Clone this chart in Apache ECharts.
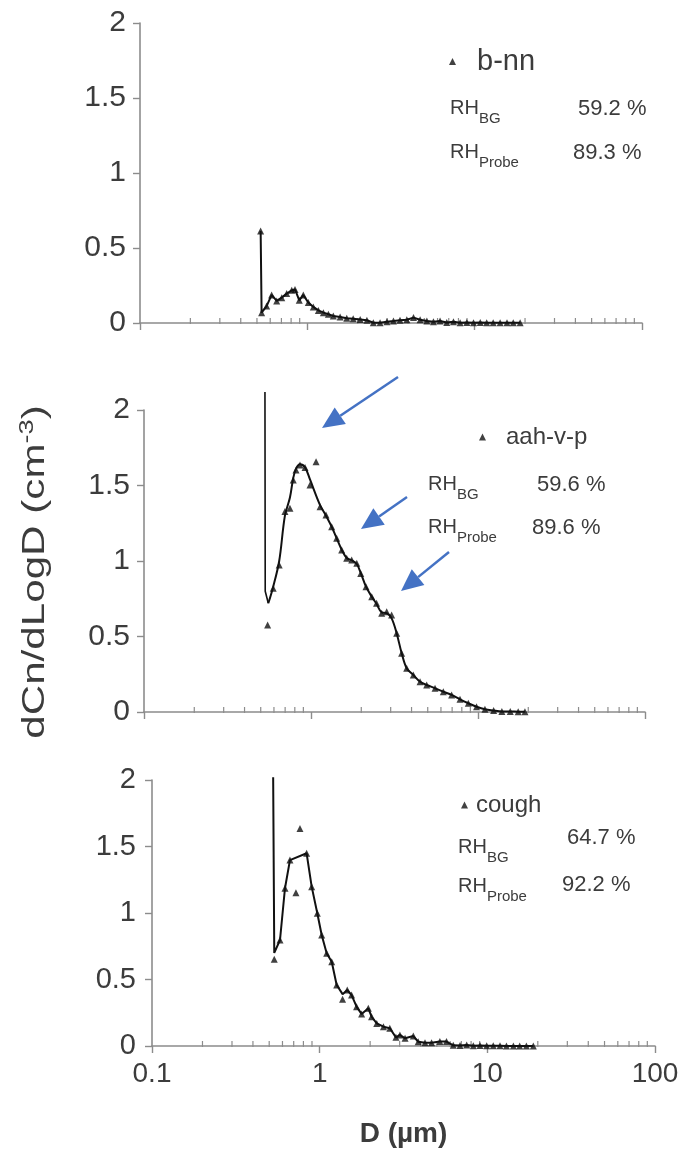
<!DOCTYPE html>
<html><head><meta charset="utf-8">
<script src="https://cdn.jsdelivr.net/npm/echarts@6/dist/echarts.min.js"></script>
<style>html,body{margin:0;padding:0;background:#fff}#c{width:684px;height:1149px}</style>
</head><body><div id="c"></div>
<script>
// ---------- data ----------
const xTickLabels = ['0.1', '1', '10', '100'];
const yTickLabels = ['0', '0.5', '1', '1.5', '2'];
const minorTicks = [0.2,0.3,0.4,0.5,0.6,0.7,0.8,0.9,2,3,4,5,6,7,8,9,20,30,40,50,60,70,80,90];

// panel 1: b-nn
const bnnD = [0.526,0.533,0.571,0.612,0.656,0.703,0.753,0.807,0.844,0.895,0.946,1.014,1.086,1.164,1.247,1.336,1.43,1.57,1.72,1.88,2.07,2.27,2.48,2.72,2.99,3.27,3.58,3.93,4.31,4.72,5.18,5.67,6.21,6.81,7.47,8.19,8.98,9.84,10.8,11.8,12.9,14.2,15.6,17.0,18.7];
const bnnV = [0.613,0.069,0.113,0.187,0.147,0.169,0.196,0.218,0.224,0.151,0.187,0.136,0.107,0.084,0.069,0.058,0.047,0.04,0.031,0.029,0.024,0.018,0.002,0.002,0.009,0.013,0.018,0.022,0.036,0.022,0.013,0.009,0.013,0.004,0.009,0.002,0.004,0.002,0.004,0.002,0.002,0.002,0.002,0.002,0.002];

// panel 2: aah-v-p (triangles)
const aahD = [0.55,0.594,0.645,0.698,0.748,0.783,0.813,0.859,0.921,0.986,1.072,1.133,1.23,1.33,1.425,1.527,1.636,1.753,1.88,1.986,2.135,2.31,2.47,2.65,2.84,3.04,3.26,3.49,3.74,4.1,4.5,4.93,5.53,6.2,6.95,7.8,8.75,9.8,11.0,12.4,13.9,15.6,17.4,19.1];
const aahV = [0.576,0.819,0.973,1.327,1.349,1.536,1.603,1.636,1.62,1.503,1.658,1.36,1.305,1.227,1.15,1.073,1.018,1.007,0.985,0.918,0.83,0.764,0.72,0.654,0.664,0.642,0.521,0.389,0.289,0.245,0.2,0.179,0.157,0.134,0.113,0.084,0.058,0.035,0.018,0.01,0.004,0.003,0.002,0.001];
// panel 2: fitted curve
const aahLeadD = [0.53, 0.532, 0.555];
const aahLeadV = [2.12, 0.8, 0.72];
const aahFitD = [0.555,0.594,0.645,0.698,0.748,0.783,0.813,0.859,0.921,0.986,1.133,1.23,1.33,1.425,1.527,1.636,1.753,1.88,1.986,2.135,2.31,2.47,2.65,2.84,3.04,3.26,3.49,3.74,4.1,4.5,4.93,5.53,6.2,6.95,7.8,8.75,9.8,11.0,12.4,13.9,15.6,17.4,19.1];
const aahFitV = [0.72,0.83,1.0,1.3,1.42,1.55,1.61,1.64,1.62,1.54,1.37,1.3,1.227,1.15,1.075,1.02,1.005,0.98,0.92,0.83,0.764,0.715,0.66,0.655,0.62,0.52,0.39,0.29,0.245,0.2,0.179,0.157,0.134,0.113,0.084,0.058,0.035,0.018,0.01,0.004,0.003,0.002,0.001];

// panel 3: cough (triangles)
const coughD = [0.536,0.58,0.621,0.665,0.722,0.763,0.836,0.896,0.968,1.028,1.101,1.18,1.263,1.37,1.46,1.55,1.66,1.78,1.95,2.04,2.19,2.4,2.62,2.85,3.01,3.23,3.62,3.87,4.25,4.65,5.21,5.71,6.26,6.87,7.53,8.25,9.04,9.91,10.85,11.9,13.0,14.3,15.6,17.1,18.8];
const coughV = [0.652,0.797,1.186,1.398,1.153,1.636,1.449,1.198,0.998,0.835,0.697,0.634,0.459,0.351,0.421,0.383,0.296,0.24,0.283,0.22,0.17,0.145,0.133,0.065,0.083,0.058,0.075,0.032,0.025,0.025,0.033,0.033,0.005,0.003,0.008,0.002,0.004,0.002,0.001,0.001,0,0,0,0,0];
// panel 3: connecting line
const coughLineD = [0.528,0.536,0.58,0.621,0.665,0.836,0.896,0.968,1.028,1.101,1.18,1.263,1.37,1.46,1.55,1.66,1.78,1.95,2.04,2.19,2.4,2.62,2.85,3.01,3.23,3.62,3.87,4.25,4.65,5.21,5.71,6.26,6.87,7.53,8.25,9.04,9.91,10.85,11.9,13.0,14.3,15.6,17.1,18.8];
const coughLineV = [2.02,0.70,0.797,1.186,1.398,1.449,1.198,0.998,0.835,0.697,0.634,0.459,0.39,0.421,0.383,0.296,0.24,0.283,0.22,0.17,0.145,0.133,0.065,0.083,0.058,0.075,0.032,0.025,0.025,0.033,0.033,0.005,0.003,0.008,0.002,0.004,0.002,0.001,0.001,0,0,0,0,0];

const seriesNames = ['b-nn', 'aah-v-p', 'cough'];
const rhBG = ['59.2 %', '59.6 %', '64.7 %'];
const rhProbe = ['89.3 %', '89.6 %', '92.2 %'];
const yTitle = ['dCn/dLogD (cm', '-3', ')'];
const xTitle = 'D (\u00b5m)';

// ---------- chart ----------
const FONT = '"Liberation Sans", Arial, Helvetica, sans-serif';
const AXIS_COL = '#8c8c8c';
const TXT = '#3c3c3c';
const zip = (a, b) => a.map((v, i) => [v, b[i]]);

const grids = [
  {left: 140, top: 23, width: 502, height: 300},
  {left: 144, top: 410, width: 501, height: 302},
  {left: 152, top: 780, width: 503, height: 266}
];

const xAxes = grids.map((g, i) => ({
  type: 'log', logBase: 10, gridIndex: i, min: 0.1, max: 100,
  axisLine: {lineStyle: {color: AXIS_COL, width: 1.6}},
  axisTick: {show: true, length: 7, lineStyle: {color: AXIS_COL, width: 1.4}},
  splitLine: {show: false},
  axisLabel: {
    show: i === 2, fontSize: 28, color: TXT, margin: 14, fontFamily: FONT,
    formatter: v => xTickLabels[Math.round(Math.log10(v)) + 1]
  },
  name: i === 2 ? xTitle : '',
  nameLocation: 'middle', nameGap: 74,
  nameTextStyle: {fontSize: 28, fontWeight: 'bold', color: TXT, fontFamily: FONT}
}));

const yAxes = grids.map((g, i) => ({
  type: 'value', gridIndex: i, min: 0, max: 2, interval: 0.5,
  axisLine: {show: true, lineStyle: {color: AXIS_COL, width: 1.6}},
  axisTick: {show: true, length: 7, lineStyle: {color: AXIS_COL, width: 1.4}},
  splitLine: {show: false},
  axisLabel: {
    fontSize: i === 2 ? 29 : 30, color: TXT, margin: i === 2 ? 16 : 14, fontFamily: FONT,
    formatter: v => yTickLabels[Math.round(v * 2)]
  }
}));

function lineSeries(i, d, v, smooth, w) {
  return {
    type: 'line', xAxisIndex: i, yAxisIndex: i, data: zip(d, v),
    symbol: 'none', smooth: smooth || false, clip: false, silent: true,
    lineStyle: {color: '#111', width: w || 2}, z: 3
  };
}
function pointSeries(i, name, d, v) {
  return {
    type: 'scatter', name: name, xAxisIndex: i, yAxisIndex: i, data: zip(d, v),
    symbol: 'triangle', symbolSize: 7, clip: false, silent: true,
    itemStyle: {color: '#111'}, z: 4
  };
}
function minorTickSeries(i) {
  return {
    type: 'custom', xAxisIndex: i, yAxisIndex: i, silent: true, z: 2,
    data: minorTicks.map(v => [v, 0]),
    renderItem: (params, api) => {
      const p = api.coord([api.value(0), 0]);
      return {type: 'line', shape: {x1: p[0], y1: p[1] - 5, x2: p[0], y2: p[1] + 1},
              style: {stroke: AXIS_COL, lineWidth: 1.2}};
    }
  };
}

const series = [
  minorTickSeries(0), minorTickSeries(1), minorTickSeries(2),
  lineSeries(0, bnnD, bnnV),
  pointSeries(0, seriesNames[0], bnnD, bnnV),
  lineSeries(1, aahLeadD, aahLeadV, false, 1.6),
  lineSeries(1, aahFitD, aahFitV, 0.35),
  pointSeries(1, seriesNames[1], aahD, aahV),
  lineSeries(2, coughLineD, coughLineV),
  pointSeries(2, seriesNames[2], coughD, coughV)
];

// legends: small triangle icon, gap done with text padding
const legendBase = {icon: 'triangle', itemWidth: 7, itemHeight: 7, selectedMode: false, padding: 0, itemStyle: {color: '#111'}};
const legends = [
  Object.assign({}, legendBase, {data: [seriesNames[0]], left: 449, top: 47,
    textStyle: {fontSize: 29, color: TXT, fontFamily: FONT, padding: [0, 0, 0, 16]}}),
  Object.assign({}, legendBase, {data: [seriesNames[1]], left: 479, top: 425,
    textStyle: {fontSize: 24, color: TXT, fontFamily: FONT, padding: [0, 0, 0, 15]}}),
  Object.assign({}, legendBase, {data: [seriesNames[2]], left: 461, top: 793,
    textStyle: {fontSize: 24, color: TXT, fontFamily: FONT, padding: [0, 0, 0, 3]}})
];

// RH annotation text blocks (subscript via rich text)
const rhRich = {
  m: {fontSize: 20, lineHeight: 20, verticalAlign: 'top', fill: TXT, fontFamily: FONT},
  s: {fontSize: 15, lineHeight: 28, verticalAlign: 'bottom', fill: TXT, fontFamily: FONT}
};
function rhLabel(x, yc, sub) {
  return {type: 'text', x: x, y: yc - 10, silent: true,
    style: {text: '{m|RH}{s|' + sub + '}', rich: rhRich, fill: TXT, font: '20px ' + FONT}};
}
function valLabel(x, yc, txt) {
  return {type: 'text', x: x, y: yc, silent: true,
    style: {text: txt, fill: TXT, font: '22px ' + FONT, verticalAlign: 'middle'}};
}
const annot = [
  rhLabel(450, 108.5, 'BG'), valLabel(578, 108.5, rhBG[0]),
  rhLabel(450, 152.5, 'Probe'), valLabel(573, 152.5, rhProbe[0]),
  rhLabel(428, 484.5, 'BG'), valLabel(537, 484.5, rhBG[1]),
  rhLabel(428, 527.5, 'Probe'), valLabel(532, 527.5, rhProbe[1]),
  rhLabel(458, 847, 'BG'), valLabel(567, 838, rhBG[2]),
  rhLabel(458, 886, 'Probe'), valLabel(562, 885, rhProbe[2])
];

// shared y-axis title (rotated, slightly stretched along its length)
const yTitleText = {
  type: 'text', x: 34, y: 572, rotation: Math.PI / 2, scaleX: 1.36, silent: true,
  style: {
    text: '{a|' + yTitle[0] + '}{s|' + yTitle[1] + '}{a|' + yTitle[2] + '}',
    align: 'center', verticalAlign: 'middle', fill: TXT,
    rich: {
      a: {fontSize: 31, lineHeight: 34, verticalAlign: 'bottom', fill: TXT, fontFamily: FONT},
      s: {fontSize: 20, lineHeight: 34, verticalAlign: 'top', fill: TXT, fontFamily: FONT}
    }
  }
};

// blue arrows (annotation)
function arrow(x1, y1, x2, y2) {
  const a = Math.atan2(y2 - y1, x2 - x1), L = 22, W = 10;
  const bx = x2 - L * Math.cos(a), by = y2 - L * Math.sin(a);
  const px = -Math.sin(a) * W, py = Math.cos(a) * W;
  return [
    {type: 'line', silent: true, shape: {x1: x1, y1: y1, x2: bx, y2: by}, style: {stroke: '#4472C4', lineWidth: 2.5}},
    {type: 'polygon', silent: true, shape: {points: [[x2, y2], [bx + px, by + py], [bx - px, by - py]]}, style: {fill: '#4472C4'}}
  ];
}
const arrows = [].concat(arrow(398, 377, 322, 428), arrow(407, 497, 361, 529), arrow(449, 552, 401, 591));

const chart = echarts.init(document.getElementById('c'), null, {renderer: 'canvas'});
chart.setOption({
  animation: false,
  backgroundColor: '#fff',
  textStyle: {fontFamily: FONT},
  grid: grids,
  xAxis: xAxes,
  yAxis: yAxes,
  legend: legends,
  series: series,
  graphic: annot.concat([yTitleText]).concat(arrows)
});
</script></body></html>
